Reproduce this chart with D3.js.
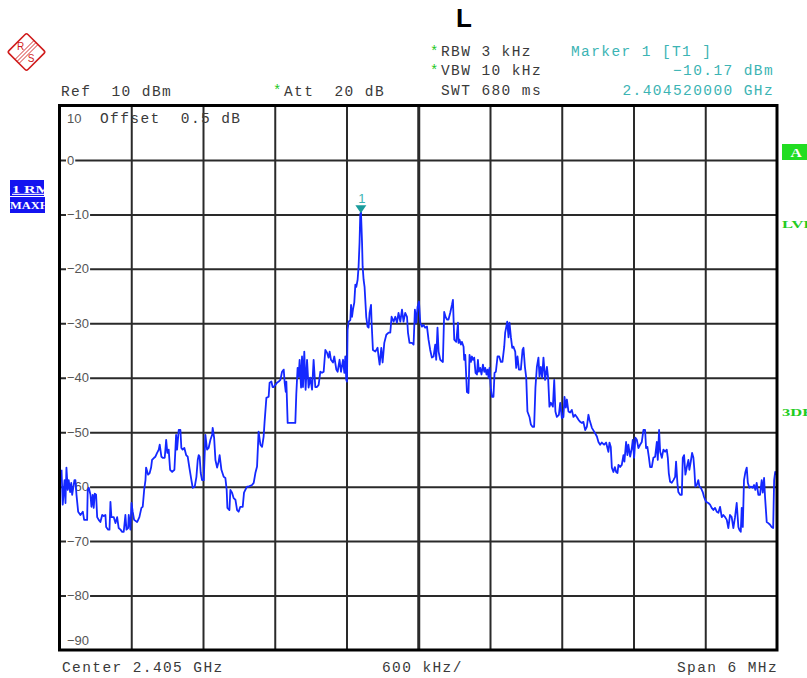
<!DOCTYPE html>
<html lang="en">
<head>
    <meta charset="UTF-8">
    <title>Spectrum 2.405 GHz</title>
    <script src="https://d3js.org/d3.v7.min.js"></script>
    <style>
        body { margin: 0; background: #fff; }
        .mono { font-family: "Liberation Mono", "DejaVu Sans Mono", monospace; font-size: 14.5px; letter-spacing: 1.4px; fill: #3a3a3a; white-space: pre; }
        .teal { fill: #3cb4b4; }
        .ylab { font-family: "Liberation Sans", Arial, sans-serif; font-size: 13px; fill: #555; }
        .grid line { stroke: #2a2a2a; stroke-width: 2; }
        .pix { font-family: "Liberation Serif", serif; font-weight: bold; }
    </style>
</head>
<body>
<div id="chart"></div>
<script>
    // instrument settings
    var centerGHz = 2.405;
    var spanMHz = 6;
    var levelTicks = [10, 0, -10, -20, -30, -40, -50, -60, -70, -80, -90];
    var freqDivs = [-3, -2.4, -1.8, -1.2, -0.6, 0, 0.6, 1.2, 1.8, 2.4, 3];
    var marker = {label: "1", freq: -0.48, level: -10.17};

    // max hold trace: [offset from center in MHz, level in dBm]
    var trace = [
        [-2.983,-56.9],[-2.973,-63.3],[-2.958,-58.8],[-2.950,-63.0],[-2.942,-56.5],[-2.931,-60.6],[-2.923,-58.8],[-2.911,-61.0],
        [-2.902,-59.3],[-2.894,-61.5],[-2.875,-58.8],[-2.867,-58.8],[-2.858,-61.5],[-2.844,-64.6],[-2.825,-65.2],[-2.805,-64.6],
        [-2.794,-66.1],[-2.769,-66.1],[-2.764,-60.6],[-2.755,-60.2],[-2.741,-61.5],[-2.733,-63.7],[-2.722,-61.5],[-2.714,-63.9],
        [-2.705,-61.3],[-2.694,-61.5],[-2.685,-65.6],[-2.672,-66.1],[-2.658,-66.5],[-2.643,-65.2],[-2.630,-65.4],[-2.616,-65.2],
        [-2.610,-67.4],[-2.593,-67.9],[-2.582,-67.9],[-2.574,-62.8],[-2.566,-65.6],[-2.546,-65.6],[-2.532,-66.7],[-2.518,-65.6],
        [-2.505,-67.6],[-2.490,-67.9],[-2.476,-68.3],[-2.463,-68.3],[-2.449,-65.2],[-2.440,-67.9],[-2.426,-67.6],[-2.421,-65.2],
        [-2.407,-67.9],[-2.398,-63.0],[-2.388,-64.6],[-2.376,-66.1],[-2.351,-66.5],[-2.332,-65.6],[-2.315,-63.9],[-2.304,-63.7],
        [-2.292,-60.6],[-2.281,-58.8],[-2.276,-56.5],[-2.259,-57.8],[-2.246,-57.5],[-2.234,-56.5],[-2.226,-55.1],[-2.209,-54.7],
        [-2.198,-54.5],[-2.184,-53.8],[-2.170,-53.2],[-2.162,-52.3],[-2.148,-54.5],[-2.137,-54.7],[-2.120,-54.7],[-2.108,-51.4],
        [-2.098,-53.8],[-2.087,-53.2],[-2.075,-56.9],[-2.058,-57.3],[-2.039,-56.9],[-2.025,-50.5],[-2.017,-53.2],[-2.003,-49.6],
        [-1.989,-49.6],[-1.981,-52.9],[-1.970,-53.2],[-1.956,-52.9],[-1.941,-54.2],[-1.928,-54.5],[-1.914,-56.5],[-1.897,-58.8],
        [-1.886,-60.2],[-1.869,-60.0],[-1.855,-58.2],[-1.844,-55.1],[-1.836,-54.2],[-1.828,-54.5],[-1.819,-57.5],[-1.808,-58.8],
        [-1.794,-58.8],[-1.780,-50.5],[-1.766,-53.2],[-1.753,-52.9],[-1.738,-51.4],[-1.724,-50.5],[-1.719,-49.2],[-1.707,-51.0],
        [-1.696,-55.1],[-1.682,-56.5],[-1.669,-55.4],[-1.661,-54.2],[-1.646,-56.9],[-1.627,-58.2],[-1.613,-58.4],[-1.602,-60.6],
        [-1.596,-63.9],[-1.579,-64.3],[-1.571,-60.6],[-1.557,-61.1],[-1.544,-62.1],[-1.529,-62.4],[-1.515,-64.3],[-1.502,-64.6],
        [-1.488,-63.7],[-1.468,-63.7],[-1.457,-61.1],[-1.446,-60.6],[-1.432,-60.0],[-1.418,-60.0],[-1.390,-59.7],[-1.376,-59.3],
        [-1.362,-57.5],[-1.348,-56.3],[-1.335,-49.9],[-1.320,-52.3],[-1.306,-52.7],[-1.293,-50.8],[-1.285,-48.1],[-1.270,-43.7],
        [-1.251,-43.5],[-1.243,-40.9],[-1.228,-40.7],[-1.218,-41.7],[-1.209,-41.7],[-1.195,-41.3],[-1.181,-40.9],[-1.167,-40.7],
        [-1.153,-40.4],[-1.139,-38.9],[-1.125,-38.5],[-1.117,-40.9],[-1.108,-42.6],[-1.103,-40.7],[-1.092,-48.3],[-1.070,-48.3],
        [-1.028,-48.3],[-1.020,-43.1],[-1.009,-38.2],[-1.000,-39.8],[-0.992,-36.7],[-0.980,-41.8],[-0.972,-36.1],[-0.964,-41.7],
        [-0.953,-35.2],[-0.942,-42.2],[-0.930,-36.7],[-0.917,-41.8],[-0.903,-40.0],[-0.888,-42.2],[-0.875,-36.7],[-0.861,-41.7],
        [-0.847,-41.7],[-0.833,-41.3],[-0.819,-38.9],[-0.805,-39.1],[-0.791,-38.9],[-0.777,-34.9],[-0.763,-35.4],[-0.750,-36.3],
        [-0.741,-35.2],[-0.730,-36.7],[-0.713,-37.2],[-0.702,-36.1],[-0.685,-38.5],[-0.674,-38.9],[-0.658,-36.7],[-0.646,-38.9],
        [-0.629,-36.7],[-0.618,-39.1],[-0.610,-36.1],[-0.602,-40.4],[-0.596,-40.7],[-0.591,-31.2],[-0.582,-29.7],[-0.568,-29.4],
        [-0.562,-26.6],[-0.554,-28.8],[-0.546,-27.5],[-0.535,-26.2],[-0.526,-22.9],[-0.518,-23.3],[-0.507,-22.0],[-0.499,-19.6],
        [-0.491,-15.2],[-0.485,-10.0],[-0.479,-9.5],[-0.470,-15.2],[-0.465,-19.6],[-0.457,-22.0],[-0.449,-23.3],[-0.435,-28.8],
        [-0.424,-30.6],[-0.415,-30.8],[-0.407,-28.1],[-0.395,-26.6],[-0.390,-29.9],[-0.379,-34.9],[-0.359,-35.2],[-0.340,-34.5],
        [-0.332,-36.1],[-0.323,-37.6],[-0.309,-34.5],[-0.298,-37.2],[-0.284,-33.6],[-0.267,-32.1],[-0.248,-31.7],[-0.234,-31.7],
        [-0.223,-28.8],[-0.206,-29.7],[-0.192,-28.8],[-0.178,-29.9],[-0.165,-28.1],[-0.150,-29.7],[-0.136,-27.5],[-0.123,-29.7],
        [-0.109,-28.1],[-0.094,-28.8],[-0.086,-31.7],[-0.073,-33.6],[-0.053,-33.6],[-0.039,-33.9],[-0.028,-27.5],[-0.017,-29.9],
        [-0.006,-27.0],[0.006,-26.0],[0.017,-29.9],[0.031,-30.6],[0.044,-30.3],[0.058,-30.8],[0.073,-30.6],[0.086,-33.0],
        [0.100,-34.9],[0.114,-36.3],[0.128,-36.1],[0.142,-33.9],[0.150,-36.7],[0.161,-30.8],[0.170,-35.2],[0.184,-36.7],
        [0.206,-37.1],[0.217,-27.9],[0.228,-28.8],[0.240,-29.3],[0.253,-29.3],[0.267,-28.1],[0.282,-26.6],[0.290,-25.7],
        [0.301,-33.0],[0.318,-33.4],[0.332,-29.9],[0.337,-33.6],[0.345,-33.0],[0.357,-33.9],[0.365,-33.4],[0.379,-34.3],
        [0.384,-36.7],[0.393,-35.8],[0.407,-42.6],[0.420,-42.8],[0.429,-35.8],[0.440,-37.1],[0.449,-36.1],[0.457,-36.7],
        [0.468,-36.3],[0.479,-39.1],[0.491,-39.4],[0.499,-36.7],[0.507,-38.9],[0.518,-38.2],[0.529,-39.4],[0.541,-37.6],
        [0.552,-38.9],[0.560,-38.2],[0.571,-39.4],[0.579,-38.5],[0.588,-40.0],[0.596,-38.2],[0.608,-42.2],[0.616,-43.5],
        [0.629,-43.5],[0.638,-39.1],[0.649,-38.9],[0.663,-36.1],[0.677,-36.1],[0.691,-37.1],[0.704,-37.1],[0.719,-34.3],
        [0.727,-31.7],[0.735,-30.8],[0.744,-29.7],[0.755,-32.6],[0.763,-29.9],[0.775,-32.6],[0.786,-34.5],[0.796,-34.3],
        [0.811,-35.2],[0.819,-38.2],[0.830,-36.1],[0.842,-38.5],[0.858,-38.5],[0.872,-34.9],[0.880,-34.5],[0.892,-38.0],
        [0.903,-40.0],[0.913,-46.2],[0.930,-47.2],[0.942,-48.6],[0.955,-49.0],[0.969,-49.0],[0.980,-41.8],[0.992,-38.0],
        [1.005,-36.3],[1.014,-39.8],[1.025,-38.0],[1.036,-40.0],[1.047,-36.3],[1.061,-40.4],[1.076,-38.0],[1.086,-40.0],
        [1.097,-45.3],[1.109,-44.6],[1.126,-45.3],[1.137,-40.4],[1.147,-46.2],[1.159,-47.2],[1.176,-46.8],[1.187,-44.6],
        [1.201,-47.4],[1.214,-47.2],[1.223,-43.5],[1.234,-45.5],[1.243,-44.0],[1.256,-46.2],[1.270,-46.4],[1.284,-45.9],
        [1.298,-47.2],[1.312,-46.8],[1.326,-47.2],[1.340,-47.7],[1.354,-48.1],[1.368,-48.3],[1.381,-48.1],[1.396,-49.6],
        [1.410,-49.0],[1.423,-46.8],[1.432,-47.7],[1.452,-49.2],[1.471,-49.9],[1.494,-50.8],[1.507,-51.8],[1.521,-52.3],
        [1.535,-51.9],[1.554,-52.3],[1.571,-51.9],[1.582,-52.9],[1.590,-53.6],[1.599,-51.9],[1.610,-52.7],[1.619,-56.5],
        [1.632,-57.3],[1.644,-56.4],[1.655,-57.3],[1.666,-57.5],[1.674,-56.0],[1.688,-56.4],[1.702,-56.0],[1.716,-54.2],
        [1.724,-55.4],[1.738,-51.8],[1.749,-54.2],[1.757,-52.3],[1.772,-54.5],[1.786,-52.9],[1.794,-51.4],[1.805,-54.7],
        [1.816,-51.0],[1.828,-51.4],[1.841,-52.9],[1.855,-52.3],[1.869,-51.8],[1.883,-49.6],[1.897,-49.6],[1.905,-52.9],
        [1.916,-52.7],[1.928,-54.5],[1.939,-56.4],[1.953,-56.4],[1.966,-54.7],[1.981,-54.5],[1.995,-51.8],[2.003,-55.1],
        [2.014,-49.6],[2.023,-53.6],[2.037,-54.7],[2.050,-53.2],[2.064,-53.6],[2.078,-53.2],[2.087,-54.7],[2.095,-57.5],
        [2.106,-59.1],[2.120,-59.3],[2.134,-58.8],[2.148,-58.2],[2.156,-55.4],[2.167,-59.3],[2.175,-61.0],[2.190,-61.5],
        [2.204,-61.5],[2.212,-54.7],[2.223,-54.2],[2.234,-57.8],[2.246,-56.4],[2.259,-55.1],[2.267,-56.9],[2.279,-55.4],
        [2.290,-53.8],[2.301,-54.7],[2.309,-56.9],[2.317,-60.0],[2.329,-59.7],[2.342,-58.8],[2.351,-60.0],[2.363,-60.2],
        [2.379,-61.0],[2.390,-61.9],[2.407,-62.8],[2.426,-63.0],[2.440,-63.3],[2.454,-63.9],[2.468,-64.3],[2.482,-63.9],
        [2.496,-64.6],[2.510,-64.8],[2.524,-63.7],[2.538,-65.6],[2.551,-65.2],[2.566,-65.6],[2.580,-66.1],[2.593,-67.6],
        [2.607,-65.2],[2.621,-65.6],[2.635,-67.6],[2.649,-65.6],[2.663,-63.0],[2.677,-67.4],[2.685,-67.9],[2.697,-68.3],
        [2.705,-63.9],[2.714,-67.4],[2.724,-58.8],[2.736,-57.3],[2.747,-56.5],[2.756,-59.3],[2.769,-60.2],[2.780,-60.0],
        [2.797,-60.2],[2.808,-59.7],[2.819,-60.6],[2.830,-59.3],[2.844,-61.5],[2.858,-61.5],[2.872,-58.8],[2.881,-61.1],
        [2.892,-58.4],[2.900,-61.9],[2.914,-66.5],[2.927,-66.7],[2.942,-67.0],[2.955,-67.4],[2.968,-67.6],[2.976,-58.8],
        [2.985,-57.3],[2.996,-57.8]
    ];

    var width = 807, height = 678;
    var plot = {left: 59.5, right: 777, top: 105.5, bottom: 650};

    var x = d3.scaleLinear().domain([-spanMHz / 2, spanMHz / 2]).range([plot.left, plot.right]);
    var y = d3.scaleLinear().domain([-90, 10]).range([plot.bottom, plot.top]);

    var svg = d3.select("#chart").append("svg")
        .attr("width", width)
        .attr("height", height);

    svg.append("clipPath").attr("id", "plotclip")
        .append("rect")
        .attr("x", plot.left).attr("y", plot.top)
        .attr("width", plot.right - plot.left).attr("height", plot.bottom - plot.top);

    // vertical grid
    var vgrid = svg.append("g").attr("class", "grid")
        .attr("transform", "translate(0," + plot.bottom + ")")
        .call(d3.axisBottom(x).tickValues(freqDivs.slice(1, -1)).tickSize(-(plot.bottom - plot.top)).tickFormat(""));
    vgrid.select(".domain").remove();
    vgrid.selectAll(".tick line").attr("stroke", "#111")
        .style("stroke-width", function (d) { return d === 0 ? 3 : 2; });

    // horizontal grid
    var hgrid = svg.append("g").attr("class", "grid")
        .attr("transform", "translate(" + plot.left + ",0)")
        .call(d3.axisLeft(y).tickValues(levelTicks.slice(1, -1)).tickSize(-(plot.right - plot.left)).tickFormat(""));
    hgrid.select(".domain").remove();
    hgrid.selectAll(".tick line").attr("stroke", "#333");

    // level labels sit on the grid lines with a white patch behind
    var ylab = svg.append("g");
    levelTicks.forEach(function (v) {
        var yy = y(v);
        if (v === 10) yy = plot.top + 12.5;
        if (v === -90) yy = plot.bottom - 10;
        var g = ylab.append("g");
        var t = g.append("text").attr("class", "ylab")
            .attr("x", 67).attr("y", yy).attr("dy", "0.35em")
            .text(v < 0 ? "\u2212" + Math.abs(v) : v);
        var b = t.node().getBBox();
        g.insert("rect", "text").attr("x", b.x - 1).attr("y", b.y)
            .attr("width", b.width + 2).attr("height", b.height).attr("fill", "#fff");
    });

    svg.append("text").attr("class", "mono").attr("x", 100).attr("y", 123).text("Offset  0.5 dB");

    // trace
    var line = d3.line()
        .x(function (d) { return x(d[0]); })
        .y(function (d) { return y(d[1]); });

    svg.append("path")
        .datum(trace)
        .attr("clip-path", "url(#plotclip)")
        .attr("fill", "none")
        .attr("stroke", "#1428ff")
        .attr("stroke-width", 1.8)
        .attr("stroke-linejoin", "round")
        .attr("d", line);

    // marker
    var mx = x(marker.freq), my = y(marker.level);
    svg.append("path")
        .attr("d", "M" + (mx - 5.5) + "," + (my - 10) + "L" + (mx + 5.5) + "," + (my - 10) + "L" + mx + "," + (my - 2) + "Z")
        .attr("fill", "#1a9c9c");
    svg.append("text").attr("x", mx + 1).attr("y", my - 12)
        .attr("text-anchor", "middle")
        .style("font-family", "Liberation Sans, sans-serif").style("font-size", "13px")
        .attr("fill", "#3cb4b4").text(marker.label);

    // frame
    svg.append("rect")
        .attr("x", plot.left).attr("y", plot.top)
        .attr("width", plot.right - plot.left).attr("height", plot.bottom - plot.top)
        .attr("fill", "none").attr("stroke", "#000").attr("stroke-width", 3);

    // header
    svg.append("text").attr("x", 464).attr("y", 27).attr("text-anchor", "middle")
        .style("font-family", "Liberation Sans, Arial, sans-serif").style("font-size", "26px").style("font-weight", "bold")
        .text("L");

    function star(x0, y0) {
        svg.append("text").attr("x", x0).attr("y", y0)
            .style("font-family", "Liberation Mono, monospace").style("font-size", "14px")
            .attr("fill", "#1ec81e").text("*");
    }

    star(430, 56);
    star(430, 75);
    star(273, 95);
    svg.append("text").attr("class", "mono").attr("x", 441).attr("y", 56).text("RBW 3 kHz");
    svg.append("text").attr("class", "mono").attr("x", 441).attr("y", 75).text("VBW 10 kHz");
    svg.append("text").attr("class", "mono").attr("x", 441).attr("y", 95).text("SWT 680 ms");
    svg.append("text").attr("class", "mono").attr("x", 61).attr("y", 96).text("Ref  10 dBm");
    svg.append("text").attr("class", "mono").attr("x", 284).attr("y", 96).text("Att  20 dB");

    svg.append("text").attr("class", "mono teal").attr("x", 571).attr("y", 56).text("Marker 1 [T1 ]");
    svg.append("text").attr("class", "mono teal").attr("x", 774).attr("y", 75).attr("text-anchor", "end")
        .text(d3.format(".2f")(marker.level).replace("-", "\u2212") + " dBm");
    svg.append("text").attr("class", "mono teal").attr("x", 774).attr("y", 95).attr("text-anchor", "end")
        .text(d3.format(".9f")(centerGHz + marker.freq / 1000) + " GHz");

    // footer
    svg.append("text").attr("class", "mono").attr("x", 62).attr("y", 672).text("Center " + centerGHz + " GHz");
    svg.append("text").attr("class", "mono").attr("x", 382).attr("y", 672).text(spanMHz / 10 * 1000 + " kHz/");
    svg.append("text").attr("class", "mono").attr("x", 778).attr("y", 672).attr("text-anchor", "end")
        .text("Span " + spanMHz + " MHz");

    // trace info boxes on the left
    svg.append("clipPath").attr("id", "boxclip1").append("rect").attr("x", 10).attr("y", 180).attr("width", 34).attr("height", 16);
    svg.append("clipPath").attr("id", "boxclip2").append("rect").attr("x", 10).attr("y", 197).attr("width", 35).attr("height", 16);
    svg.append("rect").attr("x", 10).attr("y", 180).attr("width", 34).attr("height", 16).attr("fill", "#1414f0");
    svg.append("rect").attr("x", 10).attr("y", 197).attr("width", 35).attr("height", 16).attr("fill", "#1414f0");
    svg.append("g").attr("clip-path", "url(#boxclip1)")
        .append("text").attr("class", "pix").attr("transform", "translate(12,193) scale(1.45,1)")
        .style("font-size", "11px").style("text-decoration", "underline")
        .attr("fill", "#fff").text("1 RM");
    svg.append("g").attr("clip-path", "url(#boxclip2)")
        .append("text").attr("class", "pix").attr("transform", "translate(10,209) scale(1.25,1)")
        .style("font-size", "10px").attr("fill", "#fff").text("MAXH");

    // status on the right
    svg.append("rect").attr("x", 782).attr("y", 144).attr("width", 26).attr("height", 16).attr("fill", "#22dd22");
    svg.append("text").attr("class", "pix").attr("transform", "translate(796,157) scale(1.3,1)").attr("text-anchor", "middle")
        .style("font-size", "12px").attr("fill", "#fff").text("A");
    svg.append("text").attr("class", "pix").attr("transform", "translate(782,228) scale(1.5,1)")
        .style("font-size", "11px").attr("fill", "#22cc22").text("LVL");
    svg.append("text").attr("class", "pix").attr("transform", "translate(782,416) scale(1.5,1)")
        .style("font-size", "11px").attr("fill", "#22cc22").text("3DB");

    // R&S logo
    var logo = svg.append("g").attr("transform", "translate(26.5,52)").attr("stroke", "#d01c1c").attr("fill", "none");
    logo.append("rect").attr("x", -13.4).attr("y", -13.4).attr("width", 26.8).attr("height", 26.8).attr("rx", 2)
        .attr("transform", "rotate(45)").attr("stroke-width", 1.6);
    [-2, 0, 2].forEach(function (o) {
        logo.append("line").attr("x1", -9.5 + o).attr("y1", 9.5 + o).attr("x2", 9.5 + o).attr("y2", -9.5 + o)
            .attr("stroke-width", 0.9);
    });
    logo.append("text").attr("x", -6).attr("y", -2.5).attr("text-anchor", "middle").attr("stroke", "none").attr("fill", "#d01c1c")
        .style("font-family", "Liberation Sans, sans-serif").style("font-size", "10px").text("R");
    logo.append("text").attr("x", 4.5).attr("y", 10).attr("text-anchor", "middle").attr("stroke", "none").attr("fill", "#d01c1c")
        .style("font-family", "Liberation Sans, sans-serif").style("font-size", "10px").text("S");
</script>
</body>
</html>
